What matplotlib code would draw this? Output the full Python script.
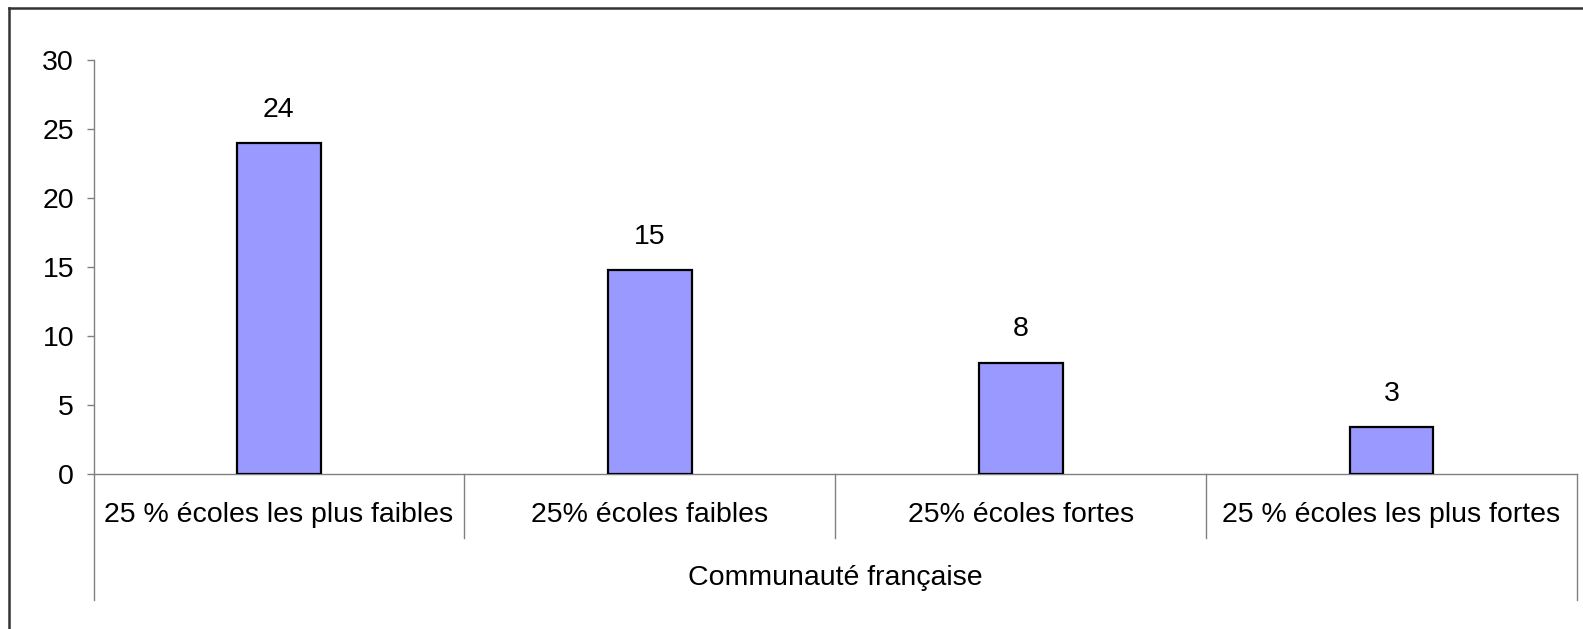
import matplotlib
matplotlib.use("Agg")
import matplotlib.pyplot as plt
from matplotlib.lines import Line2D
import matplotlib.transforms as mtransforms

categories = ["25 % écoles les plus faibles", "25% écoles faibles",
              "25% écoles fortes", "25 % écoles les plus fortes"]
values = [24.0, 14.8, 8.1, 3.4]
value_labels = ["24", "15", "8", "3"]
group_label = "Communauté française"
yticks = [0, 5, 10, 15, 20, 25, 30]

plt.rcParams['font.family'] = ['Liberation Sans', 'DejaVu Sans']
FS = 20.5
W, H = 1583, 629
fig = plt.figure(figsize=(W / 100, H / 100), dpi=100)

# axes placement (pixel measurements from the reference)
x0, x1 = 93.5, 1577.0
y_top, y_base = 60.4, 474.3
ax = fig.add_axes([x0 / W, (H - y_base) / H, (x1 - x0) / W, (y_base - y_top) / H])

xs = list(range(len(categories)))
ax.bar(xs, values, width=0.226, color="#9999FF", edgecolor="black", linewidth=1.6, zorder=3)
ax.set_xlim(-0.5, len(categories) - 0.5)
ax.set_ylim(0, 30)
ax.set_yticks(yticks)
ax.set_yticklabels([str(t) for t in yticks], fontsize=FS)
ax.tick_params(axis='y', length=5, width=1, color="#808080", pad=9)
ax.set_xticks([])

for s in ["top", "right"]:
    ax.spines[s].set_visible(False)
for s in ["left", "bottom"]:
    ax.spines[s].set_color("#808080")
    ax.spines[s].set_linewidth(1.0)

# value labels
for x, v, lab in zip(xs, values, value_labels):
    ax.annotate(lab, (x, v), xytext=(0, 24), textcoords="offset points",
                ha="center", va="center", fontsize=FS)

# category separators and labels
trans = mtransforms.blended_transform_factory(ax.transData, ax.transAxes)
axh = y_base - y_top
short = -(538 - y_base) / axh
long_ = -(600 - y_base) / axh
n = len(categories)
for i in range(n + 1):
    xb = i - 0.5
    yb = long_ if i in (0, n) else short
    ax.add_line(Line2D([xb, xb], [0, yb], transform=trans, color="#808080",
                       linewidth=1.0, clip_on=False))
for x, c in zip(xs, categories):
    ax.text(x, -(515 - y_base) / axh, c, transform=trans, ha="center", va="center", fontsize=FS)
ax.text(0.5, -(578 - y_base) / axh, group_label, transform=ax.transAxes,
        ha="center", va="center", fontsize=FS)

# outer chart border (only left and top edges fall inside the picture)
for xs_, ys_ in [([9 / W, 9 / W], [-0.02, (H - 8) / H]),
                 ([9 / W, 1.02], [(H - 8) / H, (H - 8) / H])]:
    fig.add_artist(Line2D(xs_, ys_, transform=fig.transFigure,
                          color="#333333", linewidth=1.8))

fig.savefig("out.png", dpi=100)
